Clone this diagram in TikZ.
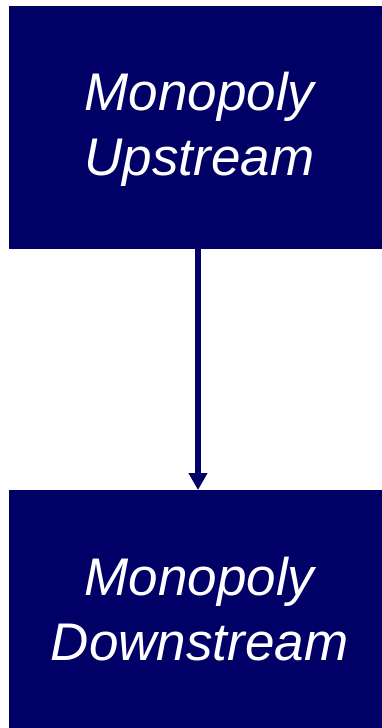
\documentclass[tikz,border=0pt]{standalone}
\usepackage{fontspec}
\setmainfont{Liberation Sans}
\usetikzlibrary{arrows.meta}
\definecolor{navy}{RGB}{0,0,102}
\tikzset{
  box/.style={fill=navy, draw=none, inner sep=0pt, outer sep=0pt,
    minimum width=373pt},
  lbl/.style={inner sep=0pt, text=white, align=center,
    font=\fontsize{53pt}{65pt}\selectfont\itshape},
  conn/.style={draw=navy, line width=5.5pt,
    -{Triangle[length=17pt,width=18pt]}}
}
\begin{document}
\begin{tikzpicture}[x=1pt,y=1pt]
\useasboundingbox (0,0) rectangle (382,-728);
\node[box, minimum height=243pt] (up) at (195.5,-127.5) {};
\node[box, minimum height=238pt] (down) at (195.5,-609) {};
\node[lbl] (uptext) at ([xshift=4pt,yshift=-2pt]up.center) {Monopoly\\Upstream};
\node[lbl] (downtext) at ([xshift=4pt]down.center) {Monopoly\\Downstream};
\draw[conn] ([xshift=2.5pt]up.south) -- ([xshift=2.5pt]down.north);
\end{tikzpicture}
\end{document}
